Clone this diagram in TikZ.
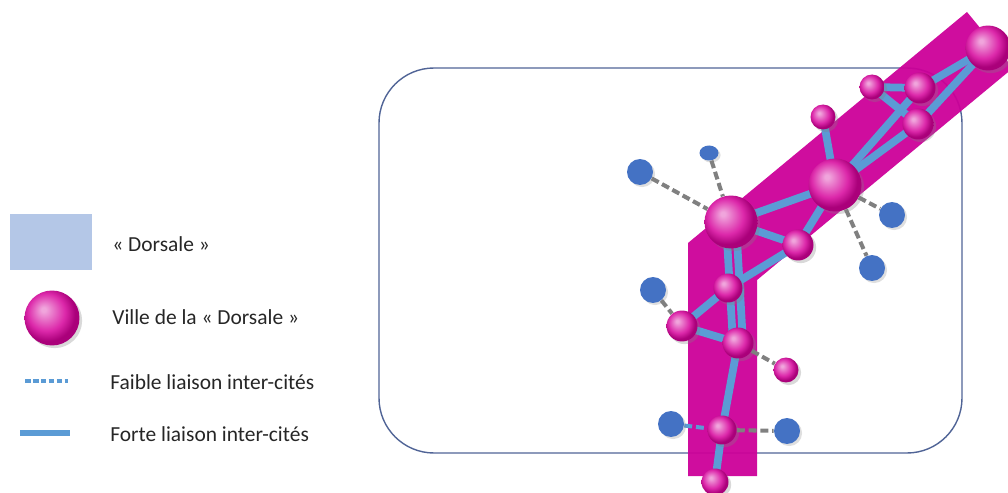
\documentclass[tikz,border=0pt]{standalone}
\usepackage{fontspec}
\setmainfont{Carlito}
\usepackage{xcolor}
\usepackage{tikz}
\usetikzlibrary{shadows,backgrounds,shapes.geometric}
\definecolor{dorsale}{RGB}{204,0,153}
\definecolor{citylight}{RGB}{240,165,220}
\definecolor{citymag}{RGB}{220,40,170}
\definecolor{citydark}{RGB}{170,0,122}
\definecolor{linkblue}{RGB}{91,155,213}
\definecolor{dotblue}{RGB}{68,114,196}
\definecolor{frameblue}{RGB}{80,100,150}
\definecolor{legendblue}{RGB}{180,199,231}
\definecolor{ink}{RGB}{38,38,38}
\pgfdeclareradialshading{cityball}{\pgfpoint{-8bp}{8bp}}{color(0bp)=(citylight); color(2bp)=(citylight); color(17bp)=(citymag); color(25bp)=(citydark); color(50bp)=(citydark)}
\pgfdeclarelayer{back}
\pgfdeclarelayer{links}
\pgfsetlayers{back,links,main}

\begin{document}
\begin{tikzpicture}[x=0.02cm,y=-0.02cm,
  city/.style={circle,shading=cityball,inner sep=0pt,
    drop shadow={shadow xshift=1.5pt,shadow yshift=-1.5pt,opacity=0.3}},
  dot/.style={circle,fill=dotblue,inner sep=0pt,minimum size=0.52cm,
    drop shadow={shadow xshift=1.2pt,shadow yshift=-1.2pt,opacity=0.25}},
  strong/.style={draw=linkblue,line width=0.155cm},
  weak/.style={draw=black!50,line width=2.3pt,dash pattern=on 4.5pt off 2.2pt},
  weakblue/.style={draw=linkblue,line width=2.3pt,dash pattern=on 4.5pt off 2.2pt},
  label/.style={anchor=west,text=ink,font=\fontsize{12.2}{14}\selectfont,inner sep=0pt}
]
\useasboundingbox (0,0) rectangle (1008,493);

\begin{pgfonlayer}{back}
\draw[frameblue,line width=0.8pt,rounded corners=1.1cm] (379,68) rectangle (962,453);
\fill[dorsale,fill opacity=0.95] (688,476) -- (688,243) -- (967,12) -- (1013,68) -- (757,280) -- (757,476) -- cycle;
\end{pgfonlayer}

\node[city,minimum size=0.9cm] (e1) at (988,48) {};
\node[city,minimum size=0.62cm] (e2) at (920,88) {};
\node[city,minimum size=0.5cm] (e3) at (872,87) {};
\node[city,minimum size=0.62cm] (e4) at (918,124) {};
\node[city,minimum size=0.5cm] (e5) at (823,117) {};
\node[city,minimum size=1.06cm] (c1) at (835,185) {};
\node[city,minimum size=1.06cm] (c2) at (731,222) {};
\node[city,minimum size=0.62cm] (c3) at (798,245) {};
\node[city,minimum size=0.58cm] (s1) at (728,288) {};
\node[city,minimum size=0.62cm] (s2) at (682,326) {};
\node[city,minimum size=0.62cm] (s3) at (738,343) {};
\node[city,minimum size=0.5cm] (s4) at (786,370) {};
\node[city,minimum size=0.58cm] (s5) at (722,430) {};
\node[city,minimum size=0.54cm] (s6) at (715,482) {};

\node[dot] (d1) at (640,172) {};
\node[dot,ellipse,minimum size=0,minimum width=0.38cm,minimum height=0.3cm] (d2) at (709,153) {};
\node[dot] (d3) at (892,215) {};
\node[dot] (d4) at (872,268) {};
\node[dot] (d5) at (653,290) {};
\node[dot] (d6) at (671,424) {};
\node[dot] (d7) at (787,431) {};

\begin{pgfonlayer}{links}
\draw[strong] (e1.center) -- (e2.center);
\draw[strong] (e1.center) -- (e4.center);
\draw[strong] (e3.center) -- (e2.center);
\draw[strong] (e3.center) -- (e4.center);
\draw[strong] (e2.center) -- (c1.center);
\draw[strong] (e4.center) -- (c1.center);
\draw[strong] (e5.center) -- (c1.center);
\draw[strong] (c1.center) -- (c2.center);
\draw[strong] (c1.center) -- (c3.center);
\draw[strong] (c2.center) -- (c3.center);
\draw[strong,transform canvas={xshift=-0.1cm}] (c2.center) -- (s3.center);
\draw[strong,transform canvas={xshift=0.1cm}] (c2.center) -- (s3.center);
\draw[strong] (s1.center) -- (c3.center);
\draw[strong] (s1.center) -- (s2.center);
\draw[strong] (s2.center) -- (s3.center);
\draw[strong] (s3.center) -- (s5.center);
\draw[strong] (s5.center) -- (s6.center);
\draw[weak] (d1) -- (c2);
\draw[weak] (d2) -- (c2);
\draw[weak] (c1) -- (d3);
\draw[weak] (c1) -- (d4);
\draw[weak] (d5) -- (s2);
\draw[weak] (s3) -- (s4);
\draw[weakblue] (d6) -- (s5);
\draw[weak] (s5) -- (d7);
\end{pgfonlayer}

\node[fill=legendblue,minimum width=1.64cm,minimum height=1.14cm,inner sep=0pt] (kd) at (51,242) {};
\node[city,minimum size=1.1cm] (kv) at (52,318) {};
\coordinate (kf1) at (25,381);
\coordinate (kf2) at (68,381);
\coordinate (kt1) at (20,433);
\coordinate (kt2) at (70,433);
\draw[weakblue,line width=2pt,dash pattern=on 3.2pt off 1.3pt] (kf1) -- (kf2);
\draw[strong,line width=0.14cm] (kt1) -- (kt2);
\node[label] (td) at (112,244) {« Dorsale »};
\node[label] (tv) at (112,317) {Ville de la « Dorsale »};
\node[label] (tf) at (110,382) {Faible liaison inter-cités};
\node[label] (tt) at (110,434) {Forte liaison inter-cités};
\end{tikzpicture}
\end{document}
